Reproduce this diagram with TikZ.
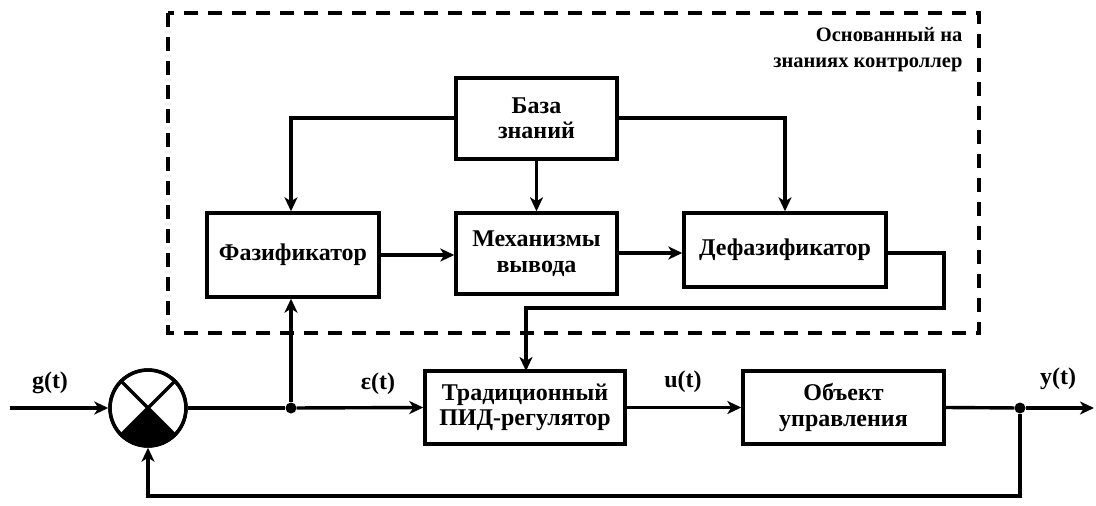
\documentclass[tikz,border=0pt]{standalone}
\usepackage{fontspec}
\setmainfont{Liberation Serif}
\usetikzlibrary{arrows.meta}
\begin{document}
\begin{tikzpicture}[x=1pt,y=-1pt,
  blk/.style={draw,line width=3.4pt,font=\fontsize{24}{25.5}\selectfont\bfseries,align=center,inner sep=0pt},
  conn/.style={line width=3.4pt,-{Stealth[length=14pt,width=13pt,inset=4pt]}},
  wire/.style={line width=3.4pt},
  lbl/.style={font=\fontsize{24}{26}\selectfont\bfseries},
  dot/.style={circle,fill,inner sep=0pt,minimum size=11pt}]
\useasboundingbox (0,0) rectangle (1096,506);
% dashed frame
\draw[line width=3.6pt,dash pattern=on 14pt off 10pt] (168,13) rectangle (979,333);
\node[font=\fontsize{20.5}{26}\selectfont\bfseries,align=right,anchor=north east] (title) at (966,24) {Основанный на\\знаниях контроллер};
% blocks
\node[blk,minimum width=161pt,minimum height=81pt] (kb) at (536.5,118.5) {База\\знаний};
\node[blk,minimum width=172pt,minimum height=84pt] (fz) at (293,255) {Фазификатор};
\node[blk,minimum width=161pt,minimum height=81pt] (inf) at (536.5,253.5) {Механизмы\\вывода};
\node[blk,minimum width=202pt,minimum height=74pt] (dfz) at (785,250) {Дефазификатор};
\node[blk,minimum width=200pt,minimum height=73pt] (pid) at (525,407.5) {Традиционный\\ПИД-регулятор};
\node[blk,minimum width=201pt,minimum height=73pt] (obj) at (843.5,407.5) {Объект\\управления};
% summing junction
\node[draw,circle,line width=3.4pt,minimum size=76pt,inner sep=0pt] (sum) at (148,408) {};
\fill (148,408) -- (148+26.9,408+26.9) arc[start angle=45,end angle=135,radius=38] -- cycle;
\draw[line width=3.4pt] (sum.north west) -- (sum.south east) (sum.north east) -- (sum.south west);
\draw[line width=3.4pt] (sum) circle[radius=38];
% coordinates
\coordinate (in) at (10,408);
\node[dot] (j1) at (291,408) {};
\node[dot] (j2) at (1020,408) {};
\coordinate (out) at (1094,408);
% connectors
\draw[conn] (in) -- (sum.west);
\draw[wire] (sum.east) -- (j1);
\draw[conn] (j1) -- (pid.west);
\draw[conn] (j1) -- (fz.south -| j1);
\draw[conn] (pid.east) -- (obj.west);
\draw[wire] (obj.east) -- (j2);
\draw[conn] (j2) -- (out);
\draw[conn] (j2) |- (148,496) -- (sum.south);
\draw[conn] (kb.west |- 0,118) -| (fz.north -| j1);
\draw[conn] (kb.east |- 0,118) -| (dfz.north);
\draw[conn] (kb.south) -- (inf.north);
\draw[conn] (fz.east |- 0,255) -- (inf.west |- 0,255);
\draw[conn] (inf.east |- 0,253) -- (dfz.west |- 0,253);
\draw[conn] (dfz.east |- 0,253) -- (944,253) |- (526,308) -- (526,371);
% labels
\node[lbl] (g) at (50,383) {g(t)};
\node[lbl] (e) at (378,384) {ε(t)};
\node[lbl] (u) at (683,382) {u(t)};
\node[lbl] (y) at (1058,379) {y(t)};
\end{tikzpicture}
\end{document}
